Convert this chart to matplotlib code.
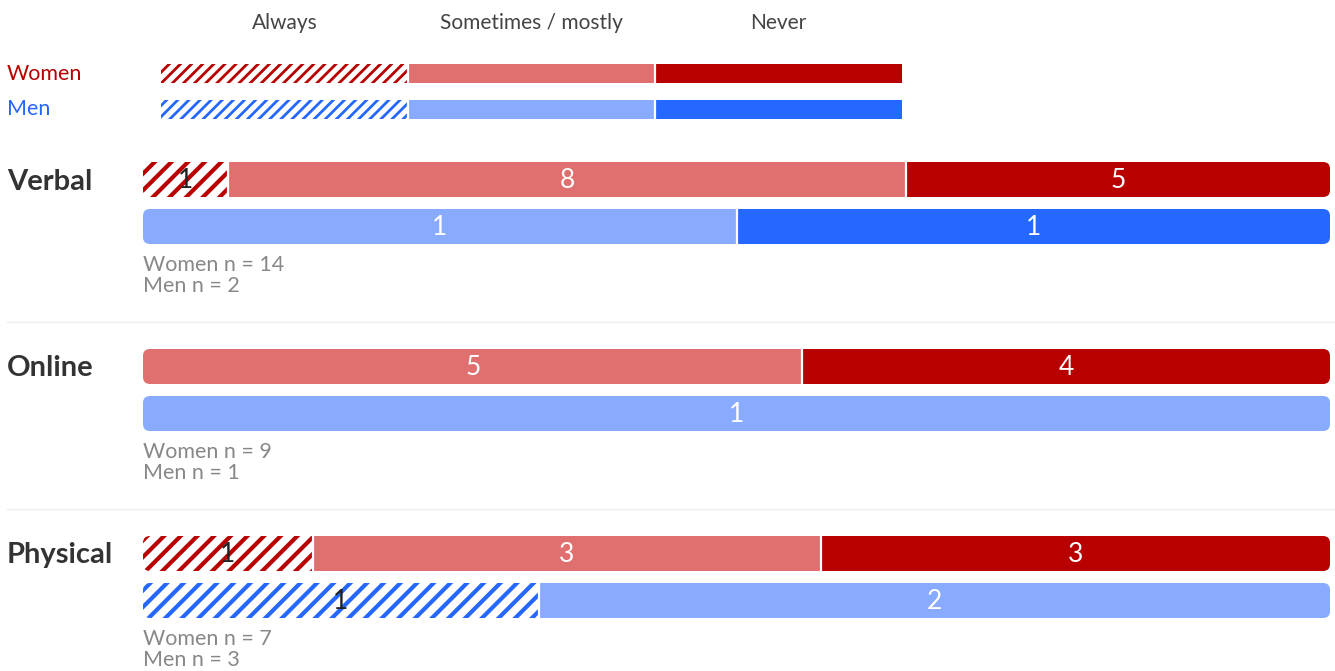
"""Stacked share bars: how often women / men experience each kind of harassment."""

import matplotlib.pyplot as plt
from matplotlib.patches import Rectangle, FancyBboxPatch

plt.rcParams["font.family"] = ["Lato", "DejaVu Sans"]

# --- data ---
answers = ["Always", "Sometimes / mostly", "Never"]
categories = ["Verbal", "Online", "Physical"]
women_counts = [[1, 8, 5], [0, 5, 4], [1, 3, 3]]
men_counts = [[0, 1, 1], [0, 1, 0], [1, 2, 0]]

# --- styling ---
RED, RED_LIGHT = "#b80000", "#e07070"
BLUE, BLUE_LIGHT = "#2468ff", "#88aaff"
women_colors = [RED, RED_LIGHT, RED]
men_colors = [BLUE, BLUE_LIGHT, BLUE]

W_PX, H_PX = 1335, 671
fig = plt.figure(figsize=(W_PX / 100, H_PX / 100), dpi=100)
ax = fig.add_axes([0, 0, 1, 1])
ax.set_xlim(0, W_PX)
ax.set_ylim(H_PX, 0)
ax.axis("off")


def draw_bar(counts, colors, x0, width, y, h, rounded=True, labels=True,
             hatch="//", hatch_lw=3.0):
    n = sum(counts)
    clip = None
    if rounded:
        clip = FancyBboxPatch((x0, y), width, h, boxstyle="round,pad=0,rounding_size=7",
                              fc="none", ec="none")
        ax.add_patch(clip)
    left = x0
    for i, (c, col) in enumerate(zip(counts, colors)):
        if c == 0:
            continue
        seg = c / n * width
        if i == 0:
            plt.rcParams["hatch.linewidth"] = hatch_lw
            r = Rectangle((left, y), seg, h, facecolor="white", edgecolor=col,
                          hatch=hatch, linewidth=0)
            if hasattr(r, "set_hatch_linewidth"):
                r.set_hatch_linewidth(hatch_lw)
            txt_col = "#222222"
        else:
            r = Rectangle((left, y), seg, h, facecolor=col, edgecolor="none", linewidth=0)
            txt_col = "white"
        ax.add_patch(r)
        if clip is not None:
            r.set_clip_path(clip)
        if left > x0:
            ax.plot([left, left], [y, y + h], color="white", lw=1.6, solid_capstyle="butt")
        if labels:
            ax.text(left + seg / 2, y + h / 2 + 1, str(c), ha="center", va="center",
                    fontsize=19, color=txt_col)
        left += seg


# --- legend / header ---
leg_x0, leg_w = 161, 741
for i, a in enumerate(answers):
    ax.text(leg_x0 + leg_w / 3 * (i + 0.5), 23, a, ha="center", va="center",
            fontsize=15, color="#444444")
draw_bar([1, 1, 1], women_colors, leg_x0, leg_w, 64, 19, rounded=False, labels=False,
         hatch="///", hatch_lw=2.0)
draw_bar([1, 1, 1], men_colors, leg_x0, leg_w, 100, 19, rounded=False, labels=False,
         hatch="///", hatch_lw=2.0)
ax.text(7, 74, "Women", ha="left", va="center", fontsize=15.5, color=RED)
ax.text(7, 109, "Men", ha="left", va="center", fontsize=15.5, color=BLUE)

# --- category groups ---
bar_x0, bar_w, bar_h = 143, 1187, 35
y_first, step, men_off = 162, 187, 47
for k, cat in enumerate(categories):
    y = y_first + k * step
    ax.text(7, y + bar_h / 2 + 2, cat, ha="left", va="center", fontsize=21,
            fontweight="bold", color="#333333")
    draw_bar(women_counts[k], women_colors, bar_x0, bar_w, y, bar_h)
    draw_bar(men_counts[k], men_colors, bar_x0, bar_w, y + men_off, bar_h)
    ax.text(bar_x0, y + 103, f"Women n = {sum(women_counts[k])}", ha="left", va="center",
            fontsize=15.5, color="#888888")
    ax.text(bar_x0, y + 124, f"Men n = {sum(men_counts[k])}", ha="left", va="center",
            fontsize=15.5, color="#888888")
    if k < len(categories) - 1:
        ax.plot([7, W_PX], [y + 160, y + 160], color="#eeeeee", lw=1)

fig.savefig("out.png", dpi=100)
